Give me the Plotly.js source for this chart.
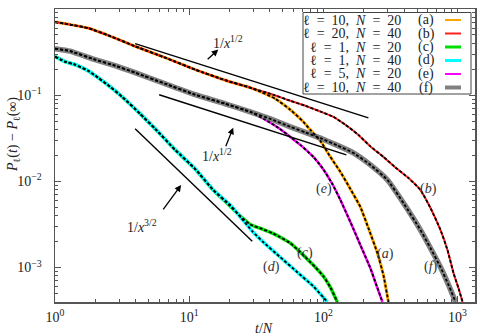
<!DOCTYPE html>
<html><head><meta charset="utf-8">
<script src="https://cdn.plot.ly/plotly-3.0.1.min.js"></script>
<style>html,body{margin:0;padding:0;background:#fff}#chart{width:478px;height:335px}</style>
</head><body><div id="chart"></div>
<script>
// ---- data ----
const seriesLabels = ['ℓ\u2002=\u200210,\u2002<i>N</i>\u2002=\u200220','ℓ\u2002=\u200220,\u2002<i>N</i>\u2002=\u200240','ℓ\u2002=\u20021,\u2002<i>N</i>\u2002=\u200220','ℓ\u2002=\u20021,\u2002<i>N</i>\u2002=\u200240','ℓ\u2002=\u20025,\u2002<i>N</i>\u2002=\u200220','ℓ\u2002=\u200210,\u2002<i>N</i>\u2002=\u200240'];
const seriesTags = ['a','b','c','d','e','f'];

const xA = [1,1.294,1.763,2.573,3.955,6.622,11.09,18.57,28.52,33.88,43.84,56.71,70.92,79.98,94.97,112.8,134.0,159.0,188.9,216.6,252.9,280.4,305.6];
const yA = [0.706,0.660,0.601,0.485,0.369,0.2726,0.1977,0.1492,0.1221,0.1096,0.0909,0.0677,0.0491,0.0396,0.02949,0.01921,0.01285,0.00815,0.00503,0.00287,0.001466,0.000813,0.000398];

const xB = [1,1.294,1.763,2.573,3.955,6.622,11.09,18.57,28.52,40.22,56.71,73.40,94.97,118.8,146.0,182.5,224.2,280.4,344.6,430.8,529.6,628.8,746.7,842.3,933.6,1017.4,1090];
const yB = [0.706,0.660,0.601,0.485,0.369,0.2726,0.1977,0.1492,0.1221,0.1039,0.0861,0.0753,0.0646,0.0561,0.0453,0.0346,0.02544,0.01921,0.01450,0.01094,0.00793,0.00490,0.00272,0.00159,0.000858,0.000574,0.000398];

const xC = [1,1.188,1.410,1.763,2.094,2.573,3.162,4.309,5.577,7.864,11.09,15.11,20.23,24.02,28.52,35.06,41.63,47.75,56.71,67.35,75.97,87.16,100,112.8,127.1];
const yC = [0.280,0.245,0.226,0.1924,0.1595,0.1253,0.0959,0.0608,0.0407,0.0232,0.0139,0.00793,0.00516,0.00395,0.00315,0.00279,0.00251,0.00225,0.00192,0.001507,0.001249,0.001008,0.000792,0.000590,0.000398];

const xD = [1,1.188,1.410,1.763,2.094,2.573,3.162,4.309,5.577,7.864,11.09,15.11,20.23,24.44,29.51,35.68,47.75,63.97,84.19,107.1];
const yD = [0.280,0.245,0.226,0.1924,0.1595,0.1253,0.0959,0.0608,0.0407,0.0232,0.0139,0.00793,0.00531,0.00375,0.00264,0.00197,0.001317,0.000881,0.000606,0.000398];

const xE = [1,1.294,1.989,2.804,3.955,6.622,11.09,18.57,28.52,36.91,46.15,56.71,67.35,84.22,98.29,116.7,134.0,159.0,188.9,224.2,248.6,275.6];
const yE = [0.347,0.3245,0.2584,0.2201,0.1824,0.1358,0.1012,0.0795,0.0641,0.0518,0.0418,0.0328,0.0265,0.01921,0.01430,0.00932,0.00607,0.00337,0.001817,0.000981,0.000622,0.000398];

const xF = [1,1.294,1.989,2.804,3.955,6.622,11.09,18.57,28.52,40.22,56.71,73.40,94.97,127.2,167.4,224.2,300.4,395.4,529.6,628.8,746.7,856.7,966.3];
const yF = [0.347,0.3245,0.2584,0.2201,0.1824,0.1358,0.1012,0.0795,0.0641,0.0532,0.0429,0.0370,0.0317,0.02614,0.02138,0.01550,0.01037,0.0056,0.00272,0.001677,0.001008,0.000628,0.000398];

// guide lines (power laws)
const guideTopX = [3.955, 216.6];  const guideTopY = [0.3968, 0.0546];
const guideMidX = [5.972, 148.4];  const guideMidY = [0.1012, 0.02026];
const guideLowX = [3.955, 29.51];  const guideLowY = [0.0407, 0.00202];
const guideLabels = ['1/<i>x</i><sup>1/2</sup>','1/<i>x</i><sup>1/2</sup>','1/<i>x</i><sup>3/2</sup>'];

const xTickVals = [1,10,100,1000];
const xTickText = ['10<sup>0</sup>','10<sup>1</sup>','10<sup>2</sup>','10<sup>3</sup>'];
const yTickVals = [1,0.1,0.01,0.001];
const yTickText = ['10<sup>0</sup>','10<sup>−1</sup>','10<sup>−2</sup>','10<sup>−3</sup>'];

// ---- styles ----
const FONT = 'Liberation Serif';
const colors = ['#ffa500','#ff2020','#00e000','#00ffff','#ff00ff','#808080'];
const widths = [3,2,3.5,3.5,2.5,5.5];
const legendWidths = [2,2,3,3,2,4];
const xs = [xA,xB,xC,xD,xE,xF];
const ys = [yA,yB,yC,yD,yE,yF];
const order = [0,1,2,3,4,5];
const SM = 0.4;

const traces = [];
order.forEach(i => traces.push({x: xs[i], y: ys[i], mode:'lines', line:{color:colors[i], width:widths[i], shape:'spline', smoothing:SM}, showlegend:false, hoverinfo:'skip'}));
order.forEach(i => traces.push({x: xs[i], y: ys[i], mode:'lines', line:{color:'#000', width:1.8, dash:'3px,2px', shape:'spline', smoothing:SM}, showlegend:false, hoverinfo:'skip'}));
[[guideTopX,guideTopY],[guideMidX,guideMidY],[guideLowX,guideLowY]].forEach(g => traces.push({x:g[0], y:g[1], mode:'lines', line:{color:'#000', width:1.4}, showlegend:false, hoverinfo:'skip'}));

const annotations = [];
// curve tags
const tagPos = [[2.463,-2.845],[2.784,-2.089],[1.866,-2.834],[1.612,-2.997],[2.007,-2.089],[2.799,-2.997]];
seriesTags.forEach((t,i) => annotations.push({x:tagPos[i][0], y:tagPos[i][1], xref:'x', yref:'y', text:'(<i>'+t+'</i>)', showarrow:false, font:{family:FONT,size:14,color:'#333'}}));
// guide labels
const gPos = [[1.291,-0.378],[1.209,-1.693],[0.649,-2.519]];
guideLabels.forEach((t,i) => annotations.push({x:gPos[i][0], y:gPos[i][1], xref:'x', yref:'y', text:t, showarrow:false, font:{family:FONT,size:14,color:'#222'}}));
// arrows (head in data coords, tail offset px)
const arrows = [[1.216,-0.471,-12,11],[1.328,-1.378,-8,20],[0.94,-2.042,-19,26]];
arrows.forEach(a => annotations.push({x:a[0], y:a[1], xref:'x', yref:'y', ax:a[2], ay:a[3], text:'', showarrow:true, arrowhead:2, arrowsize:1, arrowwidth:1.3, arrowcolor:'#000'}));
// legend
const shapes = [];
const L = 55, T = 9, W = 420, H = 293;
const px2x = p => (p - L)/W, px2y = p => (T + H - p)/H;
shapes.push({type:'rect', xref:'paper', yref:'paper', x0:px2x(303), x1:px2x(471), y0:px2y(94), y1:px2y(12.5), line:{color:'#444', width:1}, fillcolor:'#fff', layer:'above'});
seriesLabels.forEach((lab,i) => {
  const yy = 20 + i*13.5;
  annotations.push({x:px2x(403), y:px2y(yy), xref:'paper', yref:'paper', xanchor:'right', yanchor:'middle', text:lab, showarrow:false, font:{family:FONT,size:14,color:'#222'}});
  annotations.push({x:px2x(426), y:px2y(yy), xref:'paper', yref:'paper', xanchor:'center', yanchor:'middle', text:'('+seriesTags[i]+')', showarrow:false, font:{family:FONT,size:14,color:'#222'}});
  shapes.push({type:'line', xref:'paper', yref:'paper', x0:px2x(445), x1:px2x(461), y0:px2y(yy), y1:px2y(yy), line:{color:colors[i], width:legendWidths[i]}, layer:'above'});
});
// axis titles
annotations.push({x:px2x(264), y:px2y(328), xref:'paper', yref:'paper', yanchor:'middle', text:'<i>t</i>/<i>N</i>', showarrow:false, font:{family:FONT,size:14,color:'#222'}});
annotations.push({x:px2x(13), y:px2y(135), xref:'paper', yref:'paper', xanchor:'center', yanchor:'middle', text:'<i>P</i><sub>ℓ</sub>(<i>t</i>) − <i>P</i><sub>ℓ</sub>(∞)', textangle:-90, showarrow:false, font:{family:FONT,size:14,color:'#222'}});

const axisCommon = {type:'log', showgrid:false, zeroline:false, showline:true, linecolor:'#555', linewidth:1.5, mirror:'allticks', ticks:'inside', ticklen:6, tickwidth:1, tickcolor:'#555', tickmode:'array', tickfont:{family:FONT,size:14,color:'#222'}, minor:{dtick:'D1', ticks:'inside', ticklen:3, tickwidth:1, tickcolor:'#555', showgrid:false}};

const layout = {
  width:478, height:335, margin:{l:L, r:478-L-W, t:T, b:335-T-H},
  paper_bgcolor:'#fff', plot_bgcolor:'#fff', showlegend:false,
  font:{family:FONT},
  xaxis: Object.assign({}, axisCommon, {range:[0,3.13], tickvals:xTickVals, ticktext:xTickText, ticklabelstandoff:2}),
  yaxis: Object.assign({}, axisCommon, {range:[-3.40,0], tickvals:yTickVals, ticktext:yTickText, ticklabelstandoff:9}),
  annotations, shapes
};
Plotly.newPlot('chart', traces, layout, {staticPlot:true});
</script></body></html>
